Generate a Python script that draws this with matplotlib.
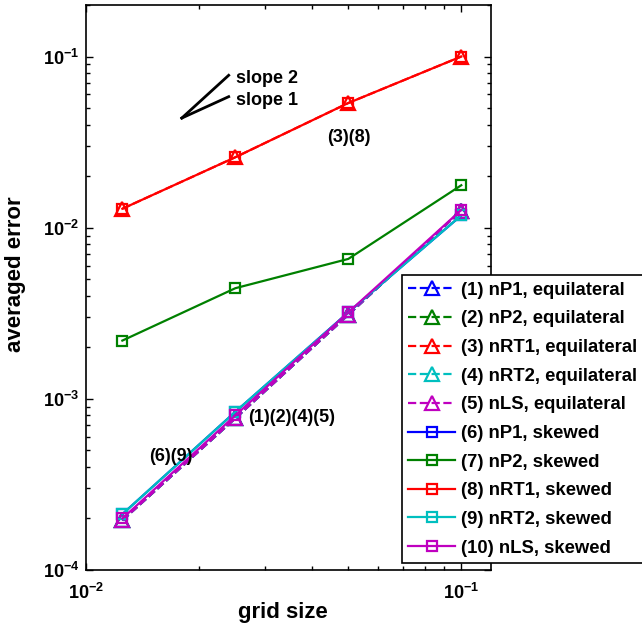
import math
import matplotlib
matplotlib.use("Agg")
import matplotlib.pyplot as plt
from matplotlib.ticker import LogLocator, FuncFormatter, NullFormatter

plt.rcParams['font.family'] = ['Liberation Sans', 'DejaVu Sans']
plt.rcParams['font.weight'] = 'bold'
plt.rcParams['mathtext.fontset'] = 'custom'
plt.rcParams['mathtext.rm'] = 'Liberation Sans:bold'
plt.rcParams['mathtext.it'] = 'Liberation Sans:bold'
plt.rcParams['mathtext.bf'] = 'Liberation Sans:bold'
plt.rcParams['mathtext.default'] = 'bf'

# ---- data ----
h = [0.0125, 0.025, 0.05, 0.1]
eq_low = [1.95e-4, 7.7e-4, 3.1e-3, 1.26e-2]      # (1)(2)(4)(5)
rt1 = [0.0129, 0.0258, 0.0535, 0.100]             # (3)(8)
sk_np1 = [2.12e-4, 8.4e-4, 3.2e-3, 1.18e-2]       # (6)
sk_np2 = [0.00219, 0.00443, 0.00657, 0.0177]      # (7)
sk_nrt2 = [2.12e-4, 8.4e-4, 3.2e-3, 1.18e-2]      # (9)
sk_nls = [2.0e-4, 8.0e-4, 3.2e-3, 1.27e-2]        # (10)

labels = ['(1) nP1, equilateral', '(2) nP2, equilateral', '(3) nRT1, equilateral',
          '(4) nRT2, equilateral', '(5) nLS, equilateral',
          '(6) nP1, skewed', '(7) nP2, skewed', '(8) nRT1, skewed',
          '(9) nRT2, skewed', '(10) nLS, skewed']
colors = ['#0000ff', '#008000', '#ff0000', '#00bfbf', '#bf00bf']

series_eq = [eq_low, eq_low, rt1, eq_low, eq_low]
series_sk = [sk_np1, sk_np2, rt1, sk_nrt2, sk_nls]

slope_x = [0.018, 0.024]
slope_y0 = 0.0437

fig = plt.figure(figsize=(6.42, 6.29), dpi=100)
ax = fig.add_axes([86/642, 59/629, 405/642, 565/629])

handles = []
for c, y, lab in zip(colors, series_eq, labels[:5]):
    l, = ax.loglog(h, y, linestyle='--', color=c, lw=1.6, marker='^',
                   markersize=9.5, markerfacecolor='none', markeredgewidth=1.6,
                   label=lab)
    handles.append(l)
for c, y, lab in zip(colors, series_sk, labels[5:]):
    l, = ax.loglog(h, y, linestyle='-', color=c, lw=1.6, marker='s',
                   markersize=7, markerfacecolor='none', markeredgewidth=1.6,
                   label=lab)
    handles.append(l)

# slope indicators
ax.loglog(slope_x, [slope_y0, slope_y0 * (slope_x[1] / slope_x[0]) ** 2], 'k-', lw=2)
ax.loglog(slope_x, [slope_y0, slope_y0 * (slope_x[1] / slope_x[0])], 'k-', lw=2)
ax.text(0.0251, 0.0743, 'slope 2', fontsize=13, fontweight='bold', va='center', ha='left')
ax.text(0.0251, 0.0551, 'slope 1', fontsize=13, fontweight='bold', va='center', ha='left')
ax.text(0.0502, 0.0335, '(3)(8)', fontsize=13, fontweight='bold', va='center', ha='center')
ax.text(0.0271, 7.8e-4, '(1)(2)(4)(5)', fontsize=13, fontweight='bold', va='center', ha='left')
ax.text(0.0168, 4.6e-4, '(6)(9)', fontsize=13, fontweight='bold', va='center', ha='center')

ax.set_xlim(0.01, 0.12)
ax.set_ylim(1e-4, 0.2)
ax.set_xlabel('grid size', fontsize=16, fontweight='bold', va='top')
ax.set_ylabel('averaged error', fontsize=16, fontweight='bold', va='center')
ax.xaxis.set_label_coords(0.485, -0.056)
ax.yaxis.set_label_coords(-0.175, 0.524)

fmt = FuncFormatter(lambda v, p: r'$10^{%d}$' % round(math.log10(v)))
ax.xaxis.set_major_locator(LogLocator(base=10, numticks=10))
ax.yaxis.set_major_locator(LogLocator(base=10, numticks=10))
ax.xaxis.set_major_formatter(fmt)
ax.yaxis.set_major_formatter(fmt)
ax.xaxis.set_minor_formatter(NullFormatter())
ax.yaxis.set_minor_formatter(NullFormatter())
ax.tick_params(which='both', direction='in', top=True, right=True, width=1, labelsize=13)
ax.tick_params(which='major', length=5)
ax.tick_params(axis='x', which='major', pad=9)
ax.tick_params(axis='y', which='major', pad=5)
ax.tick_params(which='minor', length=3)
for s in ax.spines.values():
    s.set_linewidth(1.2)

leg = fig.legend(handles=handles, loc='lower left',
                 bbox_to_anchor=(402/642, 66/629), fontsize=13.3,
                 frameon=True, fancybox=False, edgecolor='black',
                 framealpha=1, handlelength=2.5, handletextpad=0.35,
                 labelspacing=0.63, borderpad=0.35, borderaxespad=0)
leg.get_frame().set_linewidth(1.2)
for t in leg.get_texts():
    t.set_fontweight('bold')

fig.savefig('out.png', dpi=100)
